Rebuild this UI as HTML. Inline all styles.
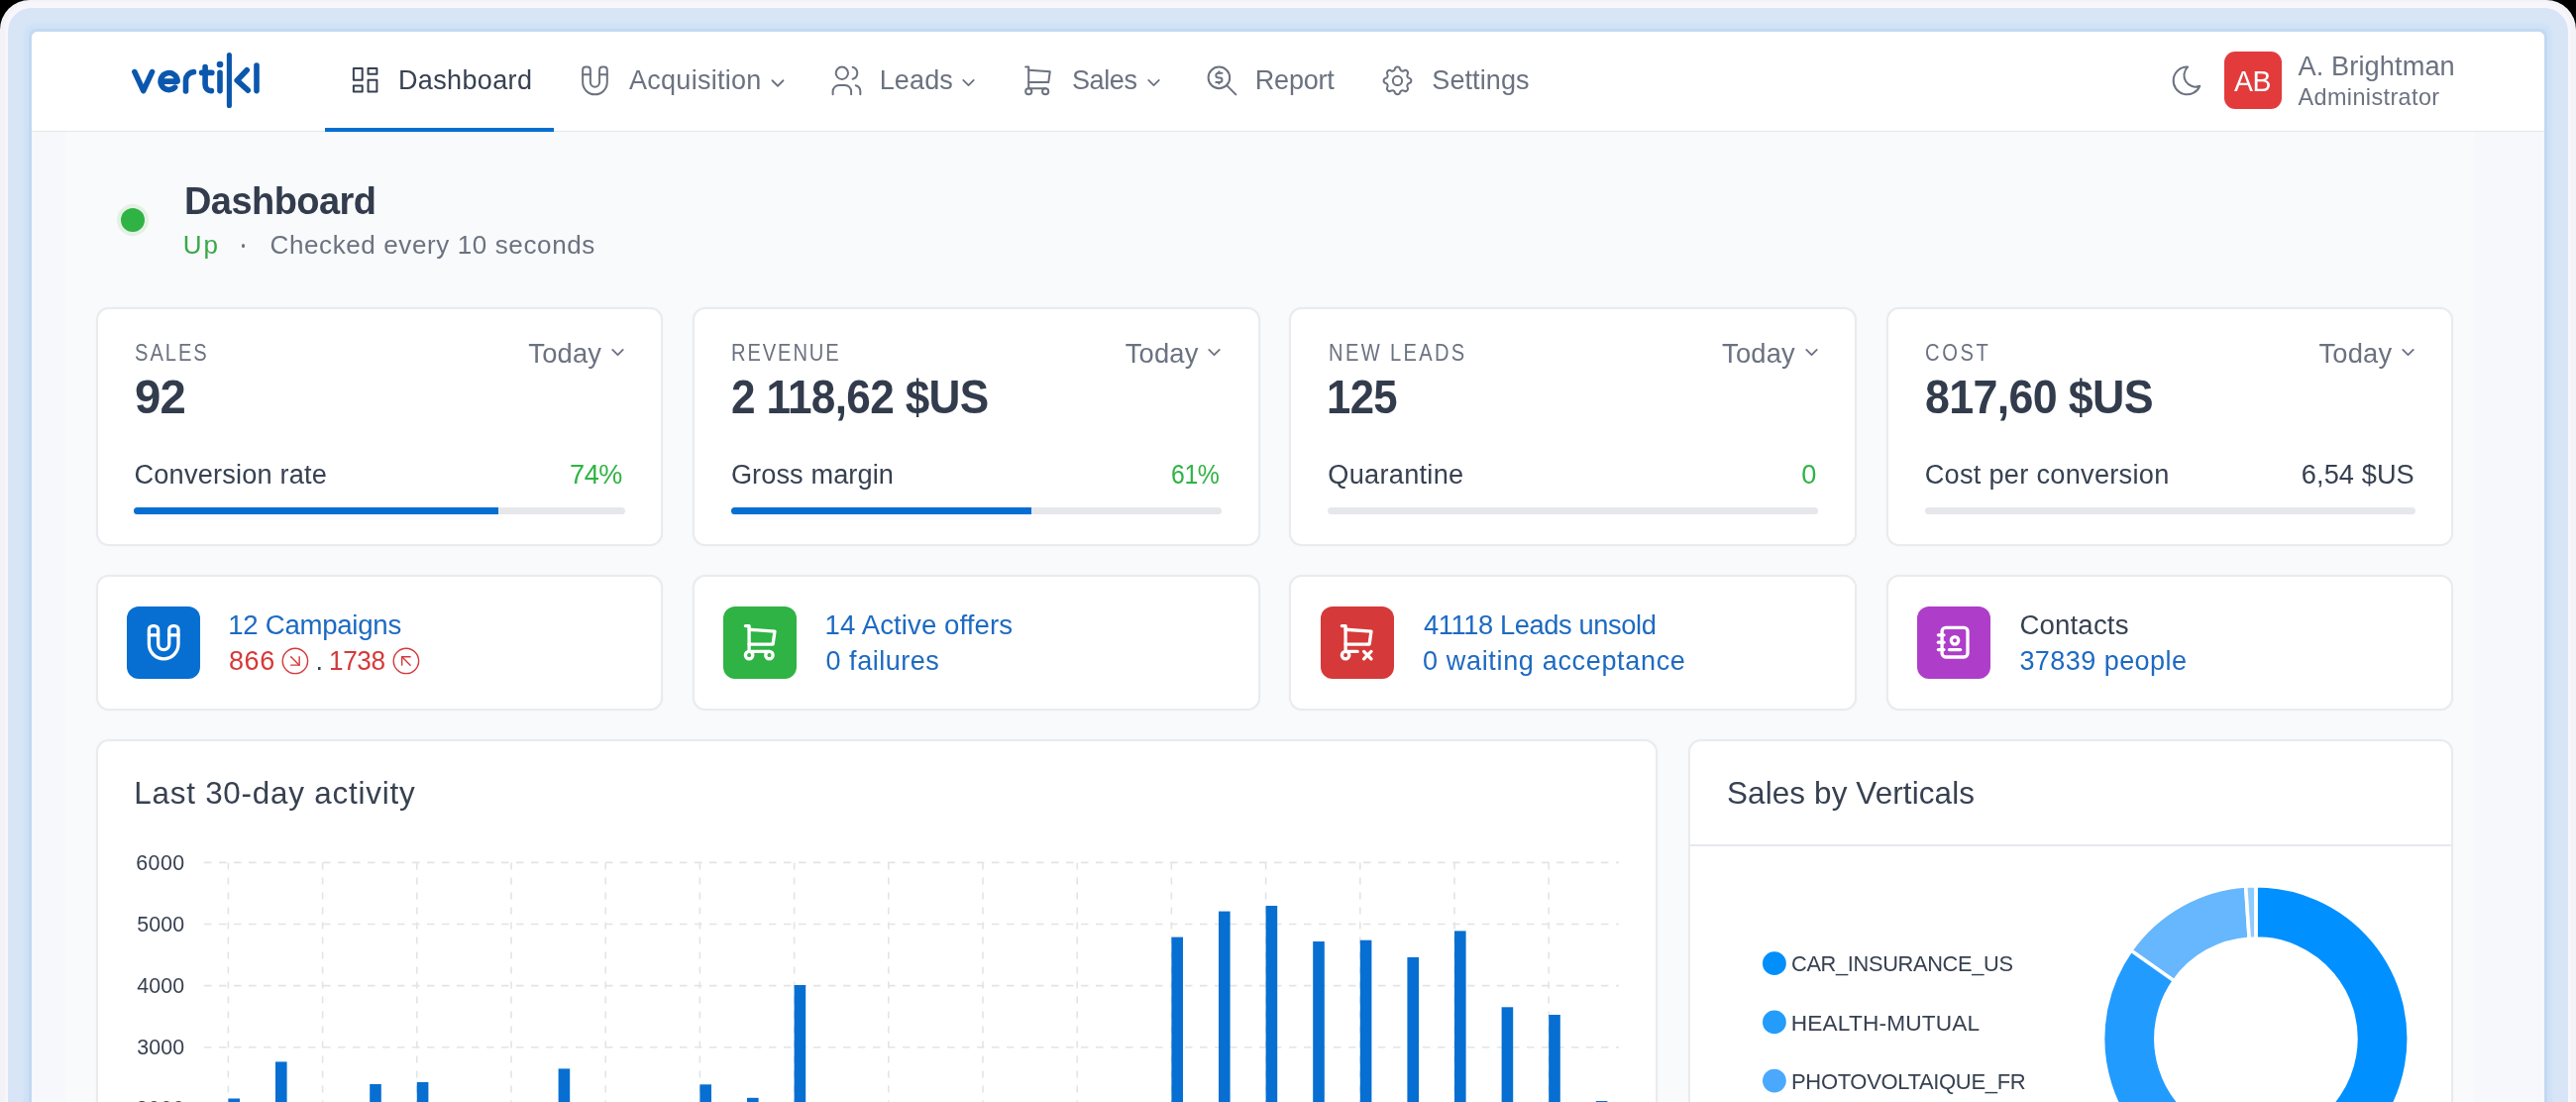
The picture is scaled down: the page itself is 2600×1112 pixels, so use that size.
<!DOCTYPE html>
<html><head><meta charset="utf-8"><style>
html,body{margin:0;padding:0;width:2600px;height:1112px;overflow:hidden;background:#000;}
.t{position:absolute;white-space:nowrap;line-height:1;font-family:'Liberation Sans', sans-serif;}
.tl{position:absolute;left:0;top:0;width:2600px;height:1112px;will-change:transform}
.ic{position:absolute;overflow:visible}
</style></head><body>
<div style="position:absolute;left:0;top:0;width:2600px;height:1200px;background:#f3f3f7;border-radius:30px 30px 0 0"></div>
<div style="position:absolute;left:5px;top:2px;width:2590px;height:1200px;background:#f7f7fb;border-radius:28px 28px 0 0"></div>
<div style="position:absolute;left:8px;top:8px;width:2584px;height:1200px;background:#d7e5f6;border-radius:24px 24px 0 0"></div>
<div style="position:absolute;left:24px;top:24px;width:2552px;height:1200px;background:#cfe1f6;border-radius:12px 12px 0 0;filter:blur(1.5px)"></div>
<div style="position:absolute;left:29px;top:29px;width:2542px;height:1200px;background:#c3d9f2;border-radius:8px 8px 0 0"></div>
<div style="position:absolute;left:32px;top:32px;width:2536px;height:1200px;background:#f6f8fb;border-radius:6px 6px 0 0;overflow:hidden">
  <div style="position:absolute;left:34px;top:100px;width:2431px;height:1200px;background:#f9fafb"></div>
  <div style="position:absolute;left:0;top:0;width:2536px;height:99.5px;background:#fff;border-bottom:1.5px solid #e5e7eb"></div>
</div>
<div style="position:absolute;left:96.5px;top:310.2px;width:572.8px;height:240.7px;background:#fff;border:2px solid #eaebee;border-radius:13px;box-sizing:border-box;box-shadow:0 0 2px rgba(0,0,0,0.05)"></div>
<div style="position:absolute;left:96.5px;top:579.9px;width:572.8px;height:137.2px;background:#fff;border:2px solid #eaebee;border-radius:13px;box-sizing:border-box;box-shadow:0 0 2px rgba(0,0,0,0.05)"></div>
<div style="position:absolute;left:698.9000000000001px;top:310.2px;width:572.8px;height:240.7px;background:#fff;border:2px solid #eaebee;border-radius:13px;box-sizing:border-box;box-shadow:0 0 2px rgba(0,0,0,0.05)"></div>
<div style="position:absolute;left:698.9000000000001px;top:579.9px;width:572.8px;height:137.2px;background:#fff;border:2px solid #eaebee;border-radius:13px;box-sizing:border-box;box-shadow:0 0 2px rgba(0,0,0,0.05)"></div>
<div style="position:absolute;left:1301.3px;top:310.2px;width:572.8px;height:240.7px;background:#fff;border:2px solid #eaebee;border-radius:13px;box-sizing:border-box;box-shadow:0 0 2px rgba(0,0,0,0.05)"></div>
<div style="position:absolute;left:1301.3px;top:579.9px;width:572.8px;height:137.2px;background:#fff;border:2px solid #eaebee;border-radius:13px;box-sizing:border-box;box-shadow:0 0 2px rgba(0,0,0,0.05)"></div>
<div style="position:absolute;left:1903.7px;top:310.2px;width:572.8px;height:240.7px;background:#fff;border:2px solid #eaebee;border-radius:13px;box-sizing:border-box;box-shadow:0 0 2px rgba(0,0,0,0.05)"></div>
<div style="position:absolute;left:1903.7px;top:579.9px;width:572.8px;height:137.2px;background:#fff;border:2px solid #eaebee;border-radius:13px;box-sizing:border-box;box-shadow:0 0 2px rgba(0,0,0,0.05)"></div>
<div style="position:absolute;left:96.5px;top:746.4px;width:1576.6px;height:500px;background:#fff;border:2px solid #eaebee;border-radius:13px;box-sizing:border-box;box-shadow:0 0 2px rgba(0,0,0,0.05)"></div>
<div style="position:absolute;left:1704.4px;top:746.4px;width:772.1px;height:500px;background:#fff;border:2px solid #eaebee;border-radius:13px;box-sizing:border-box;box-shadow:0 0 2px rgba(0,0,0,0.05)"></div>
<div style="position:absolute;left:1705.4px;top:852.2px;width:770.1px;height:1.6px;background:#e6e8ec"></div>
<div style="position:absolute;left:135.4px;top:512px;width:495.3px;height:7px;background:#e5e7eb;border-radius:4px"></div>
<div style="position:absolute;left:135.4px;top:512px;width:368.0px;height:7px;background:#066fd1;border-radius:4px 0 0 4px"></div>
<div style="position:absolute;left:737.8000000000001px;top:512px;width:495.3px;height:7px;background:#e5e7eb;border-radius:4px"></div>
<div style="position:absolute;left:737.8000000000001px;top:512px;width:303.6px;height:7px;background:#066fd1;border-radius:4px 0 0 4px"></div>
<div style="position:absolute;left:1340.1999999999998px;top:512px;width:495.3px;height:7px;background:#e5e7eb;border-radius:4px"></div>
<div style="position:absolute;left:1942.6px;top:512px;width:495.3px;height:7px;background:#e5e7eb;border-radius:4px"></div>
<div style="position:absolute;left:127.9px;top:611.8px;width:73.9px;height:73.5px;background:#066fd1;border-radius:12px"></div>
<div style="position:absolute;left:730.3000000000001px;top:611.8px;width:73.9px;height:73.5px;background:#2fb344;border-radius:12px"></div>
<div style="position:absolute;left:1332.6999999999998px;top:611.8px;width:73.9px;height:73.5px;background:#d63939;border-radius:12px"></div>
<div style="position:absolute;left:1935.1px;top:611.8px;width:73.9px;height:73.5px;background:#ae3ec9;border-radius:12px"></div>
<div style="position:absolute;left:2245px;top:51.8px;width:58.4px;height:58.6px;background:#e33b3b;border-radius:11px"></div>
<div style="position:absolute;left:117.5px;top:205.5px;width:32px;height:32px;background:#e3f1e4;border-radius:50%"></div>
<div style="position:absolute;left:121.5px;top:209.5px;width:24px;height:24px;background:#2fb344;border-radius:50%"></div>
<div style="position:absolute;left:244px;top:246.3px;width:3.4px;height:3.4px;background:#6b7280;border-radius:50%"></div>
<div style="position:absolute;left:328px;top:129px;width:231px;height:4px;background:#066fd1"></div>
<svg style="position:absolute;left:0;top:0" width="2600" height="1112"><line x1="206" y1="870.4" x2="1634" y2="870.4" stroke="#e1e4e8" stroke-width="1.6" stroke-dasharray="7.5 7.5"/>
<line x1="206" y1="932.5" x2="1634" y2="932.5" stroke="#e1e4e8" stroke-width="1.6" stroke-dasharray="7.5 7.5"/>
<line x1="206" y1="994.6" x2="1634" y2="994.6" stroke="#e1e4e8" stroke-width="1.6" stroke-dasharray="7.5 7.5"/>
<line x1="206" y1="1056.7" x2="1634" y2="1056.7" stroke="#e1e4e8" stroke-width="1.6" stroke-dasharray="7.5 7.5"/>
<line x1="206" y1="1118.8" x2="1634" y2="1118.8" stroke="#e1e4e8" stroke-width="1.6" stroke-dasharray="7.5 7.5"/>
<line x1="230.4" y1="870.4" x2="230.4" y2="1120" stroke="#e1e4e8" stroke-width="1.6" stroke-dasharray="7 8"/>
<line x1="325.6" y1="870.4" x2="325.6" y2="1120" stroke="#e1e4e8" stroke-width="1.6" stroke-dasharray="7 8"/>
<line x1="420.8" y1="870.4" x2="420.8" y2="1120" stroke="#e1e4e8" stroke-width="1.6" stroke-dasharray="7 8"/>
<line x1="516.0" y1="870.4" x2="516.0" y2="1120" stroke="#e1e4e8" stroke-width="1.6" stroke-dasharray="7 8"/>
<line x1="611.2" y1="870.4" x2="611.2" y2="1120" stroke="#e1e4e8" stroke-width="1.6" stroke-dasharray="7 8"/>
<line x1="706.4" y1="870.4" x2="706.4" y2="1120" stroke="#e1e4e8" stroke-width="1.6" stroke-dasharray="7 8"/>
<line x1="801.6" y1="870.4" x2="801.6" y2="1120" stroke="#e1e4e8" stroke-width="1.6" stroke-dasharray="7 8"/>
<line x1="896.8" y1="870.4" x2="896.8" y2="1120" stroke="#e1e4e8" stroke-width="1.6" stroke-dasharray="7 8"/>
<line x1="992.0" y1="870.4" x2="992.0" y2="1120" stroke="#e1e4e8" stroke-width="1.6" stroke-dasharray="7 8"/>
<line x1="1087.2" y1="870.4" x2="1087.2" y2="1120" stroke="#e1e4e8" stroke-width="1.6" stroke-dasharray="7 8"/>
<line x1="1182.4" y1="870.4" x2="1182.4" y2="1120" stroke="#e1e4e8" stroke-width="1.6" stroke-dasharray="7 8"/>
<line x1="1277.6" y1="870.4" x2="1277.6" y2="1120" stroke="#e1e4e8" stroke-width="1.6" stroke-dasharray="7 8"/>
<line x1="1372.8" y1="870.4" x2="1372.8" y2="1120" stroke="#e1e4e8" stroke-width="1.6" stroke-dasharray="7 8"/>
<line x1="1468.0" y1="870.4" x2="1468.0" y2="1120" stroke="#e1e4e8" stroke-width="1.6" stroke-dasharray="7 8"/>
<line x1="1563.2" y1="870.4" x2="1563.2" y2="1120" stroke="#e1e4e8" stroke-width="1.6" stroke-dasharray="7 8"/>
<rect x="230.4" y="1108.5" width="11.6" height="91.5" fill="#066fd1"/>
<rect x="278.0" y="1071.4" width="11.6" height="128.6" fill="#066fd1"/>
<rect x="373.2" y="1094" width="11.6" height="106.0" fill="#066fd1"/>
<rect x="420.8" y="1092" width="11.6" height="108.0" fill="#066fd1"/>
<rect x="563.6" y="1078.4" width="11.6" height="121.6" fill="#066fd1"/>
<rect x="706.4" y="1094.3" width="11.6" height="105.7" fill="#066fd1"/>
<rect x="754.0" y="1107.8" width="11.6" height="92.2" fill="#066fd1"/>
<rect x="801.6" y="994" width="11.6" height="206.0" fill="#066fd1"/>
<rect x="1182.4" y="945.6" width="11.6" height="254.4" fill="#066fd1"/>
<rect x="1230.0" y="919.6" width="11.6" height="280.4" fill="#066fd1"/>
<rect x="1277.6" y="914" width="11.6" height="286.0" fill="#066fd1"/>
<rect x="1325.2" y="950" width="11.6" height="250.0" fill="#066fd1"/>
<rect x="1372.8" y="948.7" width="11.6" height="251.3" fill="#066fd1"/>
<rect x="1420.4" y="966" width="11.6" height="234.0" fill="#066fd1"/>
<rect x="1468.0" y="939.4" width="11.6" height="260.6" fill="#066fd1"/>
<rect x="1515.6" y="1016.3" width="11.6" height="183.7" fill="#066fd1"/>
<rect x="1563.2" y="1024" width="11.6" height="176.0" fill="#066fd1"/>
<rect x="1610.8" y="1111" width="11.6" height="89.0" fill="#066fd1"/>
<circle cx="1790.9" cy="972.2" r="11.9" fill="#008ffb"/>
<circle cx="1790.9" cy="1031.4" r="11.9" fill="#239cfb"/>
<circle cx="1790.9" cy="1090.6" r="11.9" fill="#4aa9fc"/>
<path d="M2276.90 893.70 A154.3 154.3 0 1 1 2224.13 1192.99 L2242.36 1142.91 A101.0 101.0 0 1 0 2276.90 947.00Z" fill="#0090ff" stroke="#fff" stroke-width="3.6"/>
<path d="M2224.13 1192.99 A154.3 154.3 0 0 1 2151.28 958.40 L2194.67 989.35 A101.0 101.0 0 0 0 2242.36 1142.91Z" fill="#229bff" stroke="#fff" stroke-width="3.6"/>
<path d="M2150.81 959.06 A154.3 154.3 0 0 1 2266.67 894.04 L2270.21 947.22 A101.0 101.0 0 0 0 2194.37 989.78Z" fill="#66b7fd" stroke="#fff" stroke-width="3.6"/>
<path d="M2266.67 894.04 A154.3 154.3 0 0 1 2276.90 893.70 L2276.90 947.00 A101.0 101.0 0 0 0 2270.21 947.22Z" fill="#8ecbff" stroke="#fff" stroke-width="3.6"/>
<g fill="none" stroke="#0b57ad" stroke-width="5.6" stroke-linecap="round" stroke-linejoin="round"><path d="M135.9 72.6 L144.7 91.6 L153.5 72.6"/><path d="M162.1 82.1 H179.1 A8.5 8.5 0 1 0 176.6 88.1"/><path d="M187.5 92 V81 A8.5 8.5 0 0 1 195.5 72.6"/><path d="M207.1 67.6 V85.5 A6 6 0 0 0 213.4 91.6"/><path d="M203.6 73.4 H213.8"/><path d="M222 73.4 V91.6"/><path d="M249.2 70.8 L239.2 81.2 L250.3 91.2"/><path d="M259 66 V91.6"/></g>
<circle cx="222" cy="65" r="3.3" fill="#0b57ad"/>
<line x1="231.4" y1="55.5" x2="231.4" y2="106.5" stroke="#0b57ad" stroke-width="5.1" stroke-linecap="round"/></svg>
<svg class="ic" style="left:350.91px;top:63.36px;width:35.28px;height:35.28px" viewBox="0 0 24 24" fill="none" stroke="#374151" stroke-width="1.36" stroke-linecap="round" stroke-linejoin="round"><path d="M4 4h6v8h-6z"/><path d="M4 16h6v4h-6z"/><path d="M14 12h6v8h-6z"/><path d="M14 4h6v4h-6z"/></svg>
<svg class="ic" style="left:581.80px;top:62.60px;width:36.96px;height:36.96px" viewBox="0 0 24 24" fill="none" stroke="#6b7280" stroke-width="1.3" stroke-linecap="round" stroke-linejoin="round"><path d="M4 13v-8a2 2 0 0 1 2 -2h1a2 2 0 0 1 2 2v8a2 2 0 0 0 6 0v-8a2 2 0 0 1 2 -2h1a2 2 0 0 1 2 2v8a8 8 0 0 1 -16 0"/><path d="M4 8l5 0"/><path d="M15 8l5 0"/></svg>
<svg class="ic" style="left:836.10px;top:62.60px;width:36.96px;height:36.96px" viewBox="0 0 24 24" fill="none" stroke="#6b7280" stroke-width="1.3" stroke-linecap="round" stroke-linejoin="round"><path d="M5 7a4 4 0 1 0 8 0a4 4 0 1 0 -8 0"/><path d="M3 21v-2a4 4 0 0 1 4 -4h4a4 4 0 0 1 4 4v2"/><path d="M16 3.13a4 4 0 0 1 0 7.75"/><path d="M21 21v-2a4 4 0 0 0 -3 -3.85"/></svg>
<svg class="ic" style="left:1029.10px;top:62.60px;width:36.96px;height:36.96px" viewBox="0 0 24 24" fill="none" stroke="#6b7280" stroke-width="1.3" stroke-linecap="round" stroke-linejoin="round"><path d="M4 19a2 2 0 1 0 4 0a2 2 0 1 0 -4 0"/><path d="M15 19a2 2 0 1 0 4 0a2 2 0 1 0 -4 0"/><path d="M17 17h-11v-14h-2"/><path d="M6 5l14 1l-1 7h-13"/></svg>
<svg class="ic" style="left:1215.10px;top:62.60px;width:36.96px;height:36.96px" viewBox="0 0 24 24" fill="none" stroke="#6b7280" stroke-width="1.3" stroke-linecap="round" stroke-linejoin="round"><path d="M3 10a7 7 0 1 0 14 0a7 7 0 1 0 -14 0"/><path d="M21 21l-6 -6"/><path d="M12 7h-2.5a1.5 1.5 0 0 0 0 3h1a1.5 1.5 0 0 1 0 3h-2.5"/><path d="M10 13v1m0 -8v1"/></svg>
<svg class="ic" style="left:1392.30px;top:62.60px;width:36.96px;height:36.96px" viewBox="0 0 24 24" fill="none" stroke="#6b7280" stroke-width="1.3" stroke-linecap="round" stroke-linejoin="round"><path d="M10.325 4.317c.426 -1.756 2.924 -1.756 3.35 0a1.724 1.724 0 0 0 2.573 1.066c1.543 -.94 3.31 .826 2.37 2.37a1.724 1.724 0 0 0 1.065 2.572c1.756 .426 1.756 2.924 0 3.35a1.724 1.724 0 0 0 -1.066 2.573c.94 1.543 -.826 3.31 -2.37 2.37a1.724 1.724 0 0 0 -2.572 1.065c-.426 1.756 -2.924 1.756 -3.35 0a1.724 1.724 0 0 0 -2.573 -1.066c-1.543 .94 -3.31 -.826 -2.37 -2.37a1.724 1.724 0 0 0 -1.065 -2.572c-1.756 -.426 -1.756 -2.924 0 -3.35a1.724 1.724 0 0 0 1.066 -2.573c-.94 -1.543 .826 -3.31 2.37 -2.37c1 .608 2.296 .07 2.572 -1.065z"/><path d="M9 12a3 3 0 1 0 6 0a3 3 0 0 0 -6 0"/></svg>
<svg class="ic" style="left:2189.10px;top:63.00px;width:36.96px;height:36.96px" viewBox="0 0 24 24" fill="none" stroke="#6b7280" stroke-width="1.3" stroke-linecap="round" stroke-linejoin="round"><path d="M12 3c.132 0 .263 0 .393 0a7.5 7.5 0 0 0 7.92 12.446a9 9 0 1 1 -8.313 -12.454z"/></svg>
<svg class="ic" style="left:773.50px;top:72.75px;width:22.00px;height:22.00px" viewBox="0 0 24 24" fill="none" stroke="#6b7280" stroke-width="1.9636363636363638" stroke-linecap="round" stroke-linejoin="round"><path d="M6 9l6 6l6 -6"/></svg>
<svg class="ic" style="left:967.25px;top:73.12px;width:21.00px;height:21.00px" viewBox="0 0 24 24" fill="none" stroke="#6b7280" stroke-width="2.0571428571428574" stroke-linecap="round" stroke-linejoin="round"><path d="M6 9l6 6l6 -6"/></svg>
<svg class="ic" style="left:1154.25px;top:73.12px;width:21.00px;height:21.00px" viewBox="0 0 24 24" fill="none" stroke="#6b7280" stroke-width="2.0571428571428574" stroke-linecap="round" stroke-linejoin="round"><path d="M6 9l6 6l6 -6"/></svg>
<svg class="ic" style="left:613.05px;top:345.12px;width:21.00px;height:21.00px" viewBox="0 0 24 24" fill="none" stroke="#6b7280" stroke-width="2.0571428571428574" stroke-linecap="round" stroke-linejoin="round"><path d="M6 9l6 6l6 -6"/></svg>
<svg class="ic" style="left:1215.45px;top:345.12px;width:21.00px;height:21.00px" viewBox="0 0 24 24" fill="none" stroke="#6b7280" stroke-width="2.0571428571428574" stroke-linecap="round" stroke-linejoin="round"><path d="M6 9l6 6l6 -6"/></svg>
<svg class="ic" style="left:1817.85px;top:345.12px;width:21.00px;height:21.00px" viewBox="0 0 24 24" fill="none" stroke="#6b7280" stroke-width="2.0571428571428574" stroke-linecap="round" stroke-linejoin="round"><path d="M6 9l6 6l6 -6"/></svg>
<svg class="ic" style="left:2420.25px;top:345.12px;width:21.00px;height:21.00px" viewBox="0 0 24 24" fill="none" stroke="#6b7280" stroke-width="2.0571428571428574" stroke-linecap="round" stroke-linejoin="round"><path d="M6 9l6 6l6 -6"/></svg>
<svg class="ic" style="left:142.65px;top:626.35px;width:44.40px;height:44.40px" viewBox="0 0 24 24" fill="none" stroke="#fff" stroke-width="1.8" stroke-linecap="round" stroke-linejoin="round"><path d="M4 13v-8a2 2 0 0 1 2 -2h1a2 2 0 0 1 2 2v8a2 2 0 0 0 6 0v-8a2 2 0 0 1 2 -2h1a2 2 0 0 1 2 2v8a8 8 0 0 1 -16 0"/><path d="M4 8l5 0"/><path d="M15 8l5 0"/></svg>
<svg class="ic" style="left:745.05px;top:626.35px;width:44.40px;height:44.40px" viewBox="0 0 24 24" fill="none" stroke="#fff" stroke-width="1.8" stroke-linecap="round" stroke-linejoin="round"><path d="M4 19a2 2 0 1 0 4 0a2 2 0 1 0 -4 0"/><path d="M15 19a2 2 0 1 0 4 0a2 2 0 1 0 -4 0"/><path d="M17 17h-11v-14h-2"/><path d="M6 5l14 1l-1 7h-13"/></svg>
<svg class="ic" style="left:1347.45px;top:626.35px;width:44.40px;height:44.40px" viewBox="0 0 24 24" fill="none" stroke="#fff" stroke-width="1.8" stroke-linecap="round" stroke-linejoin="round"><path d="M4 19a2 2 0 1 0 4 0a2 2 0 1 0 -4 0"/><path d="M12.5 17h-6.5v-14h-2"/><path d="M6 5l14 1l-1 7h-13"/><path d="M16 19l4 4m0 -4l-4 4" transform="translate(0,-2)"/></svg>
<svg class="ic" style="left:1948.60px;top:626.35px;width:44.40px;height:44.40px" viewBox="0 0 24 24" fill="none" stroke="#fff" stroke-width="1.8" stroke-linecap="round" stroke-linejoin="round"><path d="M20 6v12a2 2 0 0 1 -2 2h-10a2 2 0 0 1 -2 -2v-12a2 2 0 0 1 2 -2h10a2 2 0 0 1 2 2z"/><path d="M10 16h6"/><path d="M11 11a2 2 0 1 0 4 0a2 2 0 1 0 -4 0"/><path d="M4 8h3"/><path d="M4 12h3"/><path d="M4 16h3"/></svg>
<svg class="ic" style="left:280.78px;top:650.08px;width:33.84px;height:33.84px" viewBox="0 0 24 24" fill="none" stroke="#d63939" stroke-width="1.0" stroke-linecap="round" stroke-linejoin="round"><path d="M3 12a9 9 0 1 0 18 0a9 9 0 0 0 -18 0"/><path d="M15 9v6h-6" transform="translate(0,0)"/><path d="M9 9l6 6"/></svg>
<svg class="ic" style="left:392.58px;top:650.08px;width:33.84px;height:33.84px" viewBox="0 0 24 24" fill="none" stroke="#d63939" stroke-width="1.0" stroke-linecap="round" stroke-linejoin="round"><path d="M3 12a9 9 0 1 0 18 0a9 9 0 0 0 -18 0"/><path d="M9 15v-6h6"/><path d="M15 15l-6 -6"/></svg>
<div class="tl"><div class="t" style="left:401.90px;top:68.20px;font-size:27.03px;letter-spacing:0.370px;color:#374151;font-weight:normal">Dashboard</div>
<div class="t" style="left:635.00px;top:68.20px;font-size:27.03px;letter-spacing:0.268px;color:#6b7280;font-weight:normal">Acquisition</div>
<div class="t" style="left:887.70px;top:68.20px;font-size:27.03px;letter-spacing:0.125px;color:#6b7280;font-weight:normal">Leads</div>
<div class="t" style="left:1081.90px;top:68.20px;font-size:27.03px;letter-spacing:-0.393px;color:#6b7280;font-weight:normal">Sales</div>
<div class="t" style="left:1266.80px;top:68.20px;font-size:27.03px;letter-spacing:-0.216px;color:#6b7280;font-weight:normal">Report</div>
<div class="t" style="left:1445.30px;top:68.20px;font-size:27.03px;letter-spacing:0.085px;color:#6b7280;font-weight:normal">Settings</div>
<div class="t" style="left:2319.50px;top:52.50px;font-size:27.18px;letter-spacing:0.105px;color:#6b7280;font-weight:normal">A. Brightman</div>
<div class="t" style="left:2319.50px;top:86.90px;font-size:23.4px;letter-spacing:0.400px;color:#6b7280;font-weight:normal">Administrator</div>
<div class="t" style="left:2255.20px;top:66.90px;font-size:29.5px;letter-spacing:-0.443px;color:#ffffff;font-weight:normal;transform:scaleX(0.9625);transform-origin:0 0">AB</div>
<div class="t" style="left:185.61px;top:184.30px;font-size:38.23px;letter-spacing:-0.573px;color:#323c4d;font-weight:bold;transform:scaleX(0.9943);transform-origin:0 0">Dashboard</div>
<div class="t" style="left:184.80px;top:234.40px;font-size:26.02px;letter-spacing:1.812px;color:#3aa84a;font-weight:normal">Up</div>
<div class="t" style="left:272.50px;top:234.40px;font-size:26.02px;letter-spacing:0.608px;color:#6b7280;font-weight:normal">Checked every 10 seconds</div>
<div class="t" style="left:135.74px;top:345.00px;font-size:23.4px;letter-spacing:2.303px;color:#6b7280;font-weight:normal;transform:scaleX(0.8600);transform-origin:0 0">SALES</div>
<div class="t" style="left:533.30px;top:342.80px;font-size:27.33px;letter-spacing:0.185px;color:#6b7280;font-weight:normal">Today</div>
<div class="t" style="left:135.80px;top:376.70px;font-size:47.53px;letter-spacing:-0.713px;color:#323c4d;font-weight:bold;transform:scaleX(0.9957);transform-origin:0 0">92</div>
<div class="t" style="left:135.50px;top:464.70px;font-size:27.18px;letter-spacing:0.179px;color:#374151;font-weight:normal">Conversion rate</div>
<div class="t" style="left:575.20px;top:464.70px;font-size:27.18px;letter-spacing:-0.408px;color:#2fb344;font-weight:normal;transform:scaleX(0.9960);transform-origin:0 0">74%</div>
<div class="t" style="left:738.14px;top:345.00px;font-size:23.4px;letter-spacing:2.215px;color:#6b7280;font-weight:normal;transform:scaleX(0.8600);transform-origin:0 0">REVENUE</div>
<div class="t" style="left:1135.70px;top:342.80px;font-size:27.33px;letter-spacing:0.185px;color:#6b7280;font-weight:normal">Today</div>
<div class="t" style="left:738.27px;top:376.70px;font-size:47.53px;letter-spacing:-0.713px;color:#323c4d;font-weight:bold;transform:scaleX(0.9289);transform-origin:0 0">2 118,62 $US</div>
<div class="t" style="left:737.90px;top:464.70px;font-size:27.18px;letter-spacing:0.086px;color:#374151;font-weight:normal">Gross margin</div>
<div class="t" style="left:1182.09px;top:464.70px;font-size:27.18px;letter-spacing:-0.408px;color:#2fb344;font-weight:normal;transform:scaleX(0.9121);transform-origin:0 0">61%</div>
<div class="t" style="left:1340.54px;top:345.00px;font-size:23.4px;letter-spacing:2.731px;color:#6b7280;font-weight:normal;transform:scaleX(0.8600);transform-origin:0 0">NEW LEADS</div>
<div class="t" style="left:1738.10px;top:342.80px;font-size:27.33px;letter-spacing:0.185px;color:#6b7280;font-weight:normal">Today</div>
<div class="t" style="left:1338.84px;top:376.70px;font-size:47.53px;letter-spacing:-0.713px;color:#323c4d;font-weight:bold;transform:scaleX(0.9190);transform-origin:0 0">125</div>
<div class="t" style="left:1340.30px;top:464.70px;font-size:27.18px;letter-spacing:0.264px;color:#374151;font-weight:normal">Quarantine</div>
<div class="t" style="left:1818.20px;top:464.70px;font-size:27.18px;letter-spacing:0.000px;color:#2fb344;font-weight:normal">0</div>
<div class="t" style="left:1942.94px;top:345.00px;font-size:23.4px;letter-spacing:3.112px;color:#6b7280;font-weight:normal;transform:scaleX(0.8600);transform-origin:0 0">COST</div>
<div class="t" style="left:2340.50px;top:342.80px;font-size:27.33px;letter-spacing:0.185px;color:#6b7280;font-weight:normal">Today</div>
<div class="t" style="left:1943.06px;top:376.70px;font-size:47.53px;letter-spacing:-0.713px;color:#323c4d;font-weight:bold;transform:scaleX(0.9427);transform-origin:0 0">817,60 $US</div>
<div class="t" style="left:1942.70px;top:464.70px;font-size:27.18px;letter-spacing:0.276px;color:#374151;font-weight:normal">Cost per conversion</div>
<div class="t" style="left:2322.80px;top:464.70px;font-size:27.18px;letter-spacing:0.090px;color:#374151;font-weight:normal">6,54 $US</div>
<div class="t" style="left:230.20px;top:616.80px;font-size:27.62px;letter-spacing:-0.275px;color:#1d6ac2;font-weight:normal">12 Campaigns</div>
<div class="t" style="left:832.60px;top:616.80px;font-size:27.62px;letter-spacing:0.081px;color:#1d6ac2;font-weight:normal">14 Active offers</div>
<div class="t" style="left:833.60px;top:653.90px;font-size:27.03px;letter-spacing:0.499px;color:#1d6ac2;font-weight:normal">0 failures</div>
<div class="t" style="left:1437.00px;top:616.80px;font-size:27.62px;letter-spacing:-0.414px;color:#1d6ac2;font-weight:normal;transform:scaleX(0.9886);transform-origin:0 0">41118 Leads unsold</div>
<div class="t" style="left:1436.00px;top:653.90px;font-size:27.03px;letter-spacing:0.659px;color:#1d6ac2;font-weight:normal">0 waiting acceptance</div>
<div class="t" style="left:2038.40px;top:616.80px;font-size:27.62px;letter-spacing:0.164px;color:#374151;font-weight:normal">Contacts</div>
<div class="t" style="left:2038.40px;top:653.90px;font-size:27.03px;letter-spacing:0.443px;color:#1d6ac2;font-weight:normal">37839 people</div>
<div class="t" style="left:231.00px;top:653.90px;font-size:27.03px;letter-spacing:0.575px;color:#d63939;font-weight:normal">866</div>
<div class="t" style="left:318.50px;top:653.90px;font-size:27.03px;letter-spacing:0.000px;color:#374151;font-weight:normal">.</div>
<div class="t" style="left:331.96px;top:653.90px;font-size:27.03px;letter-spacing:-0.405px;color:#d63939;font-weight:normal;transform:scaleX(0.9685);transform-origin:0 0">1738</div>
<div class="t" style="left:135.20px;top:784.50px;font-size:31.4px;letter-spacing:0.779px;color:#374151;font-weight:normal">Last 30-day activity</div>
<div class="t" style="left:137.20px;top:860.70px;font-size:21.37px;letter-spacing:0.488px;color:#374151;font-weight:normal">6000</div>
<div class="t" style="left:138.20px;top:922.80px;font-size:21.37px;letter-spacing:0.154px;color:#374151;font-weight:normal">5000</div>
<div class="t" style="left:138.20px;top:984.90px;font-size:21.37px;letter-spacing:0.154px;color:#374151;font-weight:normal">4000</div>
<div class="t" style="left:138.20px;top:1047.00px;font-size:21.37px;letter-spacing:0.154px;color:#374151;font-weight:normal">3000</div>
<div class="t" style="left:137.20px;top:1109.10px;font-size:21.37px;letter-spacing:0.488px;color:#374151;font-weight:normal">2000</div>
<div class="t" style="left:1743.00px;top:784.50px;font-size:31.4px;letter-spacing:0.132px;color:#374151;font-weight:normal">Sales by Verticals</div>
<div class="t" style="left:1807.74px;top:961.30px;font-size:22.67px;letter-spacing:-0.340px;color:#374151;font-weight:normal;transform:scaleX(0.9619);transform-origin:0 0">CAR_INSURANCE_US</div>
<div class="t" style="left:1807.70px;top:1020.50px;font-size:22.67px;letter-spacing:0.175px;color:#374151;font-weight:normal">HEALTH-MUTUAL</div>
<div class="t" style="left:1807.73px;top:1079.70px;font-size:22.67px;letter-spacing:-0.340px;color:#374151;font-weight:normal;transform:scaleX(0.9705);transform-origin:0 0">PHOTOVOLTAIQUE_FR</div></div>
</body></html>
